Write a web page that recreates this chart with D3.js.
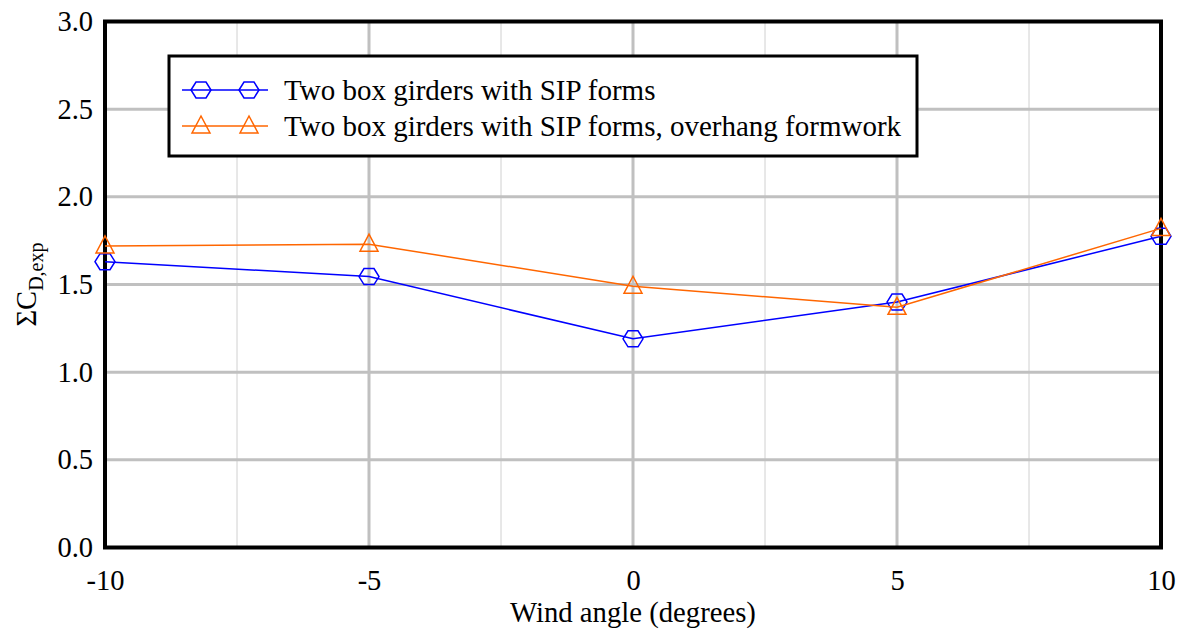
<!DOCTYPE html>
<html><head><meta charset="utf-8">
<script src="https://cdn.jsdelivr.net/npm/d3@7"></script>
<style>body{margin:0;background:#fff}svg text{font-family:"Liberation Serif","Times New Roman",serif !important}</style>
</head><body>
<svg id="c" width="1183" height="633"></svg>
<script>
const angles = [-10, -5, 0, 5, 10];
const seriesSIP = [1.63, 1.545, 1.19, 1.40, 1.775];
const seriesOverhang = [1.72, 1.73, 1.49, 1.37, 1.82];
const seriesNames = ["Two box girders with SIP forms", "Two box girders with SIP forms, overhang formwork"];
const xTicks = [-10, -5, 0, 5, 10];
const xMinor = [-7.5, -2.5, 2.5, 7.5];
const yTicks = [0, 0.5, 1.0, 1.5, 2.0, 2.5, 3.0];

const svg = d3.select("#c");
const L = 105, R = 1161, T = 21.5, B = 547.5;
const x = d3.scaleLinear().domain([-10, 10]).range([L, R]);
const y = d3.scaleLinear().domain([0, 3]).range([B, T]);

// grid
svg.append("g").selectAll("line").data(xMinor).join("line")
  .attr("x1", d => x(d)).attr("x2", d => x(d)).attr("y1", T).attr("y2", B)
  .attr("stroke", "#d0d0d0").attr("stroke-width", 1);
svg.append("g").selectAll("line").data(xTicks).join("line")
  .attr("x1", d => x(d)).attr("x2", d => x(d)).attr("y1", T).attr("y2", B)
  .attr("stroke", "#c0c0c0").attr("stroke-width", 3);
svg.append("g").selectAll("line").data(yTicks).join("line")
  .attr("x1", L).attr("x2", R).attr("y1", d => y(d)).attr("y2", d => y(d))
  .attr("stroke", "#c0c0c0").attr("stroke-width", 3);

// axes frame
svg.append("rect").attr("x", L).attr("y", T).attr("width", R - L).attr("height", B - T)
  .attr("fill", "none").attr("stroke", "#000").attr("stroke-width", 4);

// tick labels
const xAxis = d3.axisBottom(x).tickValues(xTicks).tickSize(0).tickPadding(22).tickFormat(d => String(d));
const gx = svg.append("g").attr("transform", `translate(0,${B})`).call(xAxis);
gx.select(".domain").remove();
gx.attr("font-size", 28.5);
gx.selectAll("text").attr("fill", "#000");
const yAxis = d3.axisLeft(y).tickValues(yTicks).tickSize(0).tickPadding(12).tickFormat(d3.format(".1f"));
const gy = svg.append("g").attr("transform", `translate(${L},0)`).call(yAxis);
gy.select(".domain").remove();
gy.attr("font-size", 28.5);
gy.selectAll("text").attr("fill", "#000");

// axis labels
svg.append("text").attr("x", (L + R) / 2).attr("y", 622).attr("text-anchor", "middle")
  .attr("font-size", 28.7).text("Wind angle (degrees)");
const yl = svg.append("text").attr("transform", `translate(36,${(T + B) / 2}) rotate(-90)`)
  .attr("text-anchor", "middle").attr("font-size", 28.5);
yl.append("tspan").text("ΣC");
yl.append("tspan").attr("font-size", 20).attr("dy", 7).text("D,exp");

// markers
const hexPath = (cx, cy) => {
  const w = 10, h = 8, s = 5;
  return `M${cx - w},${cy} L${cx - s},${cy - h} L${cx + s},${cy - h} L${cx + w},${cy} L${cx + s},${cy + h} L${cx - s},${cy + h} Z`;
};
const triPath = (cx, cy) => `M${cx},${cy - 10} L${cx + 9},${cy + 7} L${cx - 9},${cy + 7} Z`;

const series = [
  {vals: seriesSIP, color: "#0000ff", marker: hexPath},
  {vals: seriesOverhang, color: "#ff6600", marker: triPath}
];
const line = d3.line().x((d, i) => x(angles[i])).y(d => y(d));
series.forEach(s => {
  svg.append("path").attr("d", line(s.vals)).attr("fill", "none").attr("stroke", s.color).attr("stroke-width", 1.5);
  svg.append("g").selectAll("path").data(s.vals).join("path")
    .attr("d", (d, i) => s.marker(x(angles[i]), y(d)))
    .attr("fill", "none").attr("stroke", s.color).attr("stroke-width", 1.5);
});

// legend
const lg = svg.append("g");
lg.append("rect").attr("x", 169).attr("y", 56).attr("width", 748).attr("height", 100)
  .attr("fill", "#fff").attr("stroke", "#000").attr("stroke-width", 3);
const ly = [90, 126];
series.forEach((s, i) => {
  lg.append("line").attr("x1", 182).attr("x2", 268).attr("y1", ly[i]).attr("y2", ly[i])
    .attr("stroke", s.color).attr("stroke-width", 1.5);
  [201, 249].forEach(mx => lg.append("path").attr("d", s.marker(mx, ly[i]))
    .attr("fill", "none").attr("stroke", s.color).attr("stroke-width", 1.5));
  lg.append("text").attr("x", 284).attr("y", ly[i] + 10).attr("font-size", 29).text(seriesNames[i]);
});
</script>
</body></html>
